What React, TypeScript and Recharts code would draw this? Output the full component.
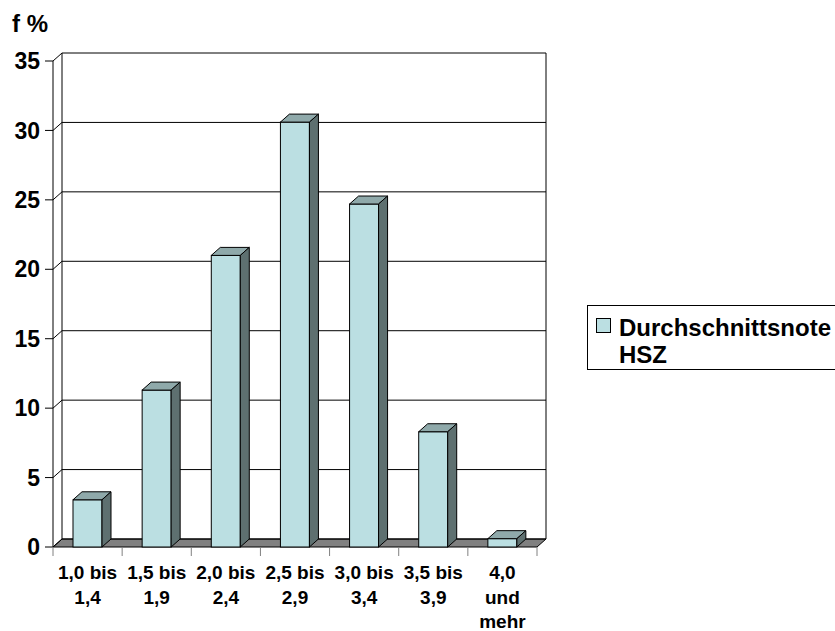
import { BarChart, Bar, XAxis, YAxis, CartesianGrid, Legend } from 'recharts';

// Kategorien (Notenbereiche), je Zeile ein Eintrag
const categoryLines: string[][] = [
  ['1,0 bis', '1,4'],
  ['1,5 bis', '1,9'],
  ['2,0 bis', '2,4'],
  ['2,5 bis', '2,9'],
  ['3,0 bis', '3,4'],
  ['3,5 bis', '3,9'],
  ['4,0', 'und', 'mehr'],
];
const categories = categoryLines.map((l) => l.join(' '));

// f % je Kategorie
const values = [3.4, 11.3, 21.0, 30.6, 24.7, 8.3, 0.6];

const yTicks = [0, 5, 10, 15, 20, 25, 30, 35];
const seriesName = 'Durchschnittsnote HSZ';

const data = categories.map((name, i) => ({ name, value: values[i] }));

// layout
const W = 835;
const H = 631;
const PLOT_LEFT = 53;
const PLOT_RIGHT = 537;
const PLOT_TOP = 61;
const PLOT_BOTTOM = 547;
const DX = 9;
const DY = -8;

const FRONT = '#BBDFE2';
const TOP = '#8FA9AA';
const SIDE = '#5E7070';
const FLOOR = '#808080';
const FONT = '"Liberation Sans", Arial, sans-serif';

function Bar3D(props: any) {
  const { x, y, width, height } = props;
  if (width == null || height == null) return null;
  return (
    <g stroke="#000" strokeWidth={1}>
      <rect x={x} y={y} width={width} height={height} fill={FRONT} />
      <polygon
        points={`${x},${y} ${x + DX},${y + DY} ${x + width + DX},${y + DY} ${x + width},${y}`}
        fill={TOP}
      />
      <polygon
        points={`${x + width},${y} ${x + width + DX},${y + DY} ${x + width + DX},${y + height + DY} ${x + width},${y + height}`}
        fill={SIDE}
      />
    </g>
  );
}

function gridLine(props: any) {
  const { x1, y1, x2 } = props;
  const isBottom = Math.abs(y1 - PLOT_BOTTOM) < 1;
  return (
    <g key={`g-${y1}`}>
      {isBottom && (
        <>
          <line x1={x1 + DX} y1={PLOT_TOP + DY} x2={x1 + DX} y2={y1 + DY} stroke="#000" />
          <line x1={x2 + DX} y1={PLOT_TOP + DY} x2={x2 + DX} y2={y1 + DY} stroke="#000" />
          <polygon
            points={`${x1},${y1} ${x1 + DX},${y1 + DY} ${x2 + DX},${y1 + DY} ${x2},${y1}`}
            fill={FLOOR}
            stroke="#000"
          />
        </>
      )}
      <line x1={x1} y1={y1} x2={x1 + DX} y2={y1 + DY} stroke="#000" />
      <line x1={x1 + DX} y1={y1 + DY} x2={x2 + DX} y2={y1 + DY} stroke="#000" />
    </g>
  );
}

function XTick(props: any) {
  const { x, y, payload, index } = props;
  const lines = categoryLines[payload.index ?? index] || [String(payload.value)];
  const half = payload.offset || (PLOT_RIGHT - PLOT_LEFT) / categories.length / 2;
  const isLast = (payload.index ?? index) === categories.length - 1;
  return (
    <g>
      <line x1={x - half} y1={y} x2={x - half} y2={y + 9} stroke={FLOOR} />
      {isLast && <line x1={x + half} y1={y} x2={x + half} y2={y + 9} stroke={FLOOR} />}
      <text x={x} y={y + 32} textAnchor="middle" fontSize={19} fontWeight="bold" fill="#000">
        {lines.map((l, i) => (
          <tspan key={i} x={x} dy={i === 0 ? 0 : 24.5}>
            {l}
          </tspan>
        ))}
      </text>
    </g>
  );
}

function LegendBox() {
  const parts = seriesName.split(' ');
  return (
    <div
      style={{
        position: 'relative',
        width: 260,
        height: 65,
        border: '1px solid #000',
        boxSizing: 'border-box',
        background: '#fff',
        fontFamily: FONT,
      }}
    >
      <div
        style={{
          position: 'absolute',
          left: 8,
          top: 12,
          width: 15,
          height: 15,
          boxSizing: 'border-box',
          background: FRONT,
          border: '1px solid #000',
        }}
      />
      <div
        style={{
          position: 'absolute',
          left: 31,
          top: 8,
          fontSize: 24,
          fontWeight: 'bold',
          lineHeight: '27px',
          color: '#000',
          whiteSpace: 'nowrap',
        }}
      >
        {parts.map((p, i) => (
          <div key={i}>{p}</div>
        ))}
      </div>
    </div>
  );
}

export default function App() {
  return (
    <div
      style={{
        position: 'absolute',
        left: 0,
        top: 0,
        width: W,
        height: H,
        overflow: 'hidden',
        background: '#fff',
        fontFamily: FONT,
      }}
    >
      <BarChart
        width={W}
        height={H}
        data={data}
        margin={{ top: PLOT_TOP, right: W - PLOT_RIGHT, bottom: 0, left: 0 }}
        barSize={29}
      >
        <CartesianGrid horizontal={gridLine} vertical={false} />
        <XAxis
          dataKey="name"
          axisLine={false}
          tickLine={false}
          tickSize={0}
          tickMargin={0}
          height={H - PLOT_BOTTOM}
          interval={0}
          tick={<XTick />}
        />
        <YAxis
          width={PLOT_LEFT}
          domain={[0, 35]}
          ticks={yTicks}
          axisLine={{ stroke: '#000' }}
          tickLine={{ stroke: '#000' }}
          tickSize={8}
          tickMargin={5}
          tick={{ fontSize: 23, fontWeight: 'bold', fill: '#000', fontFamily: FONT }}
          label={{
            content: () => (
              <text x={12} y={32} fontSize={24} fontWeight="bold" fill="#000" fontFamily={FONT}>
                f %
              </text>
            ),
          }}
        />
        <Legend
          layout="horizontal"
          align="center"
          verticalAlign="middle"
          width={260}
          wrapperStyle={{ left: 587, top: 305 }}
          content={() => <LegendBox />}
        />
        <Bar dataKey="value" name={seriesName} shape={<Bar3D />} isAnimationActive={false} />
      </BarChart>
    </div>
  );
}
